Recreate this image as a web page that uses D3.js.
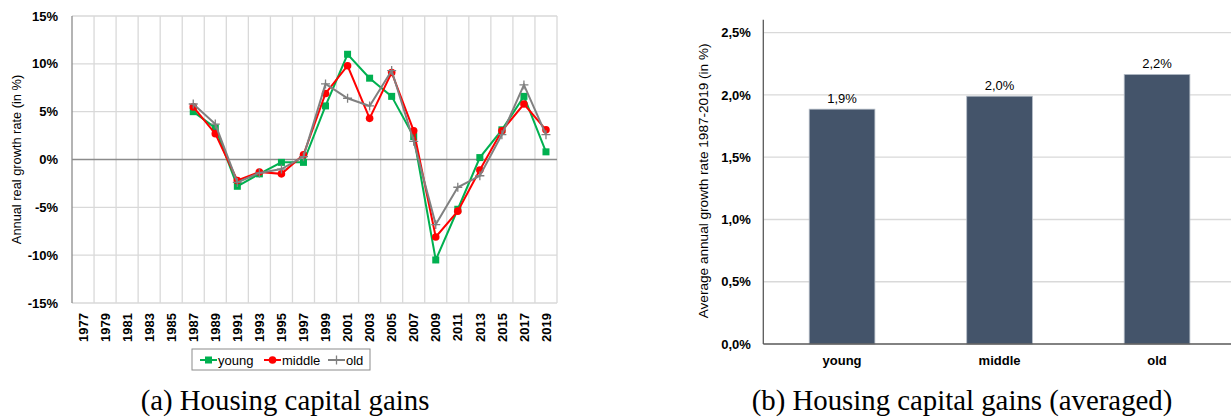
<!DOCTYPE html>
<html>
<head>
<meta charset="utf-8">
<script src="https://cdn.jsdelivr.net/npm/d3@7"></script>
<style>
  body { margin: 0; background: #fff; }
  text { font-family: "Liberation Sans", Arial, sans-serif; fill: #000; }
  .caption { font-family: "Liberation Serif", "Times New Roman", serif; }
</style>
</head>
<body>
<div id="chart"></div>
<script>
// left panel: annual growth by age group
const years = ["1977", "1979", "1981", "1983", "1985", "1987", "1989", "1991", "1993", "1995", "1997",
               "1999", "2001", "2003", "2005", "2007", "2009", "2011", "2013", "2015", "2017", "2019"]
const young  = [null, null, null, null, null, 5.0, 3.3, -2.8, -1.5, -0.3, -0.3, 5.6, 11.0, 8.5, 6.6, 2.4, -10.5, -5.2, 0.2, 3.1, 6.6, 0.8]
const middle = [null, null, null, null, null, 5.5, 2.7, -2.2, -1.3, -1.5, 0.5, 6.9, 9.8, 4.3, 9.1, 3.0, -8.1, -5.4, -1.1, 3.0, 5.8, 3.1]
const old    = [null, null, null, null, null, 5.8, 3.7, -2.4, -1.4, -1.0, 0.3, 7.9, 6.4, 5.6, 9.3, 1.9, -6.8, -2.9, -1.7, 2.6, 7.8, 2.6]
const y_ticks_left = [-15, -10, -5, 0, 5, 10, 15]

// right panel: averages 1987-2019
const groups = ["young", "middle", "old"]
const averages = [1.886, 1.99, 2.165]
const y_ticks_right = [0, 0.5, 1.0, 1.5, 2.0, 2.5]

const width = 1231, height = 420

const svg = d3.select("#chart").append("svg")
    .attr("width", width)
    .attr("height", height)

const comma = d3.formatLocale({ decimal: ",", thousands: ".", grouping: [3], currency: ["", ""] })
const pct1 = v => comma.format(".1f")(v) + "%"

// ---------- left chart ----------
const left = { x0: 72, x1: 557, y0: 16, y1: 303 }

const x = d3.scaleBand()
    .domain(years)
    .range([left.x0, left.x1])

const y = d3.scaleLinear()
    .domain([-15, 15])
    .range([left.y1, left.y0])

const g1 = svg.append("g")

// grid
g1.append("g").selectAll("line.h")
    .data(y_ticks_left.filter(d => d !== 0))
    .join("line")
    .attr("x1", left.x0).attr("x2", left.x1)
    .attr("y1", d => y(d)).attr("y2", d => y(d))
    .attr("stroke", "#d9d9d9").attr("stroke-width", 1.3)

g1.append("g").selectAll("line.v")
    .data(years.slice(1).concat(["end"]))
    .join("line")
    .attr("x1", d => d === "end" ? left.x1 : x(d))
    .attr("x2", d => d === "end" ? left.x1 : x(d))
    .attr("y1", left.y0).attr("y2", left.y1)
    .attr("stroke", "#d9d9d9").attr("stroke-width", 1.3)

// left axis + zero line
g1.append("line")
    .attr("x1", left.x0).attr("x2", left.x0)
    .attr("y1", left.y0).attr("y2", left.y1)
    .attr("stroke", "#8c8c8c").attr("stroke-width", 1.3)
g1.append("line")
    .attr("x1", left.x0).attr("x2", left.x1)
    .attr("y1", y(0)).attr("y2", y(0))
    .attr("stroke", "#8c8c8c").attr("stroke-width", 1.5)

g1.append("g").selectAll("text")
    .data(y_ticks_left)
    .join("text")
    .attr("x", left.x0 - 14)
    .attr("y", d => y(d))
    .attr("dy", "0.35em")
    .attr("text-anchor", "end")
    .attr("font-size", "13px")
    .attr("font-weight", "bold")
    .text(d => d + "%")

g1.append("g").selectAll("text")
    .data(years)
    .join("text")
    .attr("transform", d => `translate(${x(d) + x.bandwidth() / 2}, ${left.y1 + 10}) rotate(-90)`)
    .attr("dy", "0.36em")
    .attr("text-anchor", "end")
    .attr("font-size", "13px")
    .attr("font-weight", "bold")
    .text(d => d)

g1.append("text")
    .attr("transform", `translate(17, ${(left.y0 + left.y1) / 2}) rotate(-90)`)
    .attr("dy", "0.35em")
    .attr("text-anchor", "middle")
    .attr("font-size", "12.8px")
    .text("Annual real growth rate (in %)")

const series = [
    { name: "young", values: young, color: "#00b050", marker: "square" },
    { name: "middle", values: middle, color: "#ff0000", marker: "circle" },
    { name: "old", values: old, color: "#808080", marker: "plus" }
]

const line = d3.line()
    .defined(d => d.v !== null)
    .x(d => x(d.year) + x.bandwidth() / 2)
    .y(d => y(d.v))

function draw_marker(sel, kind, color) {
    if (kind === "square") {
        sel.append("rect")
            .attr("x", -3.5).attr("y", -3.5).attr("width", 7).attr("height", 7)
            .attr("fill", color)
    } else if (kind === "circle") {
        sel.append("circle").attr("r", 3.8).attr("fill", color)
    } else {
        sel.append("path")
            .attr("d", "M -4.5 0 H 4.5 M 0 -4.5 V 4.5")
            .attr("stroke", color).attr("stroke-width", 1.3).attr("fill", "none")
    }
}

for (const s of series) {
    const pts = years.map((year, i) => ({ year, v: s.values[i] }))
    g1.append("path")
        .datum(pts)
        .attr("fill", "none")
        .attr("stroke", s.color)
        .attr("stroke-width", 2)
        .attr("d", line)

    g1.append("g").selectAll("g")
        .data(pts.filter(d => d.v !== null))
        .join("g")
        .attr("transform", d => `translate(${x(d.year) + x.bandwidth() / 2}, ${y(d.v)})`)
        .each(function() { draw_marker(d3.select(this), s.marker, s.color) })
}

// legend
const legend = g1.append("g").attr("transform", "translate(192, 349)")
legend.append("rect")
    .attr("width", 178).attr("height", 21)
    .attr("fill", "#fff").attr("stroke", "#8c8c8c").attr("stroke-width", 1)
const legend_x = [8, 72, 136]
series.forEach((s, i) => {
    const item = legend.append("g").attr("transform", `translate(${legend_x[i]}, 11)`)
    item.append("line")
        .attr("x1", 0).attr("x2", 17)
        .attr("stroke", s.color).attr("stroke-width", 2)
    draw_marker(item.append("g").attr("transform", "translate(8.5, 0)"), s.marker, s.color)
    item.append("text")
        .attr("x", 18)
        .attr("dy", "0.35em")
        .attr("font-size", "13px")
        .text(s.name)
})

svg.append("text")
    .attr("class", "caption")
    .attr("x", 285).attr("y", 410)
    .attr("text-anchor", "middle")
    .attr("font-size", "28.8px")
    .text("(a) Housing capital gains")

// ---------- right chart ----------
const right = { x0: 763.3, x1: 1235.8, y0: 32.7, y1: 344 }

const xb = d3.scaleBand()
    .domain(groups)
    .range([right.x0, right.x1])
    .paddingInner(0.583)
    .paddingOuter(0.583 / 2)

const yb = d3.scaleLinear()
    .domain([0, 2.5])
    .range([right.y1, right.y0])

const g2 = svg.append("g")

g2.append("g").selectAll("line")
    .data(y_ticks_right.slice(1))
    .join("line")
    .attr("x1", right.x0).attr("x2", width)
    .attr("y1", d => yb(d)).attr("y2", d => yb(d))
    .attr("stroke", "#d9d9d9").attr("stroke-width", 1.3)

g2.selectAll("rect.bar")
    .data(groups.map((g, i) => ({ g, v: averages[i] })))
    .join("rect")
    .attr("class", "bar")
    .attr("x", d => xb(d.g))
    .attr("y", d => yb(d.v))
    .attr("width", xb.bandwidth())
    .attr("height", d => yb(0) - yb(d.v))
    .attr("fill", "#44546a")
    .attr("stroke", "#b4bcc6")
    .attr("stroke-width", 0.8)

g2.selectAll("text.val")
    .data(groups.map((g, i) => ({ g, v: averages[i] })))
    .join("text")
    .attr("class", "val")
    .attr("x", d => xb(d.g) + xb.bandwidth() / 2)
    .attr("y", d => yb(d.v) - 6)
    .attr("text-anchor", "middle")
    .attr("font-size", "13px")
    .attr("fill", "#262626")
    .text(d => pct1(d.v))

g2.append("line")
    .attr("x1", right.x0).attr("x2", right.x0)
    .attr("y1", right.y0 - 13).attr("y2", right.y1)
    .attr("stroke", "#595959").attr("stroke-width", 1.3)
g2.append("line")
    .attr("x1", right.x0).attr("x2", width)
    .attr("y1", right.y1).attr("y2", right.y1)
    .attr("stroke", "#595959").attr("stroke-width", 1.3)

g2.append("g").selectAll("text")
    .data(y_ticks_right)
    .join("text")
    .attr("x", right.x0 - 12.5)
    .attr("y", d => yb(d))
    .attr("dy", "0.35em")
    .attr("text-anchor", "end")
    .attr("font-size", "13px")
    .attr("font-weight", "bold")
    .text(d => pct1(d))

g2.append("g").selectAll("text")
    .data(groups)
    .join("text")
    .attr("x", d => xb(d) + xb.bandwidth() / 2)
    .attr("y", 365)
    .attr("text-anchor", "middle")
    .attr("font-size", "13px")
    .attr("font-weight", "bold")
    .text(d => d)

g2.append("text")
    .attr("transform", `translate(703, ${(41.7 + 320) / 2}) rotate(-90)`)
    .attr("dy", "0.35em")
    .attr("text-anchor", "middle")
    .attr("font-size", "13.6px")
    .text("Average annual growth rate 1987-2019 (in %)")

svg.append("text")
    .attr("class", "caption")
    .attr("x", 962).attr("y", 410)
    .attr("text-anchor", "middle")
    .attr("font-size", "28.8px")
    .text("(b) Housing capital gains (averaged)")
</script>
</body>
</html>
